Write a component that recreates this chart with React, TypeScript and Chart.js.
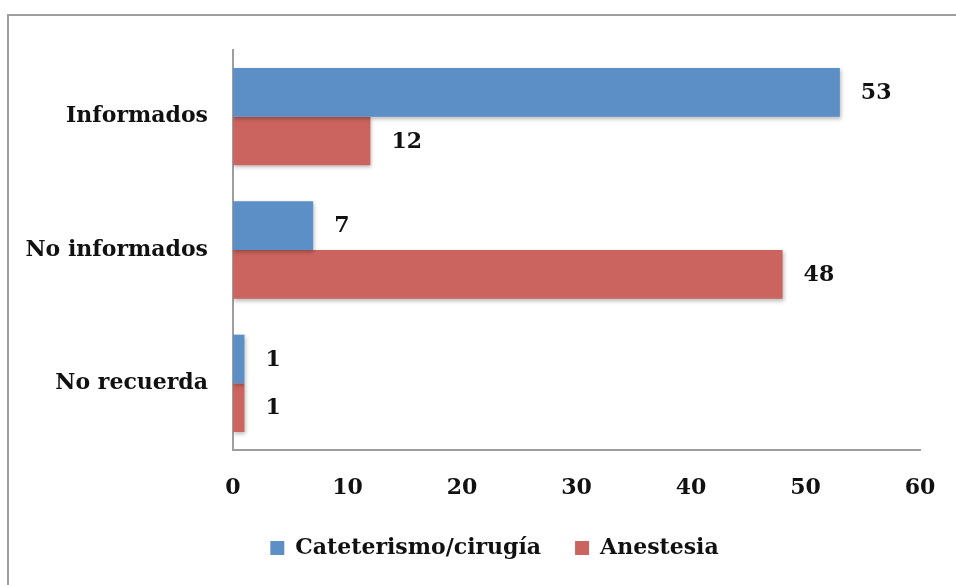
import React, { useEffect, useRef } from "react";
import { Chart, registerables } from "chart.js";

Chart.register(...registerables);

const categories = ["Informados", "No informados", "No recuerda"];
const seriesNames = ["Cateterismo/cirugía", "Anestesia"];
const cateterismo = [53, 7, 1];
const anestesia = [12, 48, 1];
const xTicks = [0, 10, 20, 30, 40, 50, 60];

const BLUE = "#5B8FC6";
const RED = "#CB645E";
const AXIS = "#9E9E9E";
const FONT = "'DejaVu Serif', serif";

// Soft drop shadow under the bars
const barShadow = {
  id: "barShadow",
  beforeDatasetsDraw(chart: any) {
    const ctx = chart.ctx;
    ctx.save();
    ctx.shadowColor = "rgba(0,0,0,0.28)";
    ctx.shadowBlur = 4;
    ctx.shadowOffsetX = 1;
    ctx.shadowOffsetY = 2;
  },
  afterDatasetsDraw(chart: any) {
    chart.ctx.restore();
  },
};

// Value printed to the right of every bar
const valueLabels = {
  id: "valueLabels",
  afterDatasetsDraw(chart: any) {
    const ctx = chart.ctx;
    ctx.save();
    ctx.font = `bold 22px ${FONT}`;
    ctx.fillStyle = "#111";
    ctx.textAlign = "left";
    ctx.textBaseline = "middle";
    chart.data.datasets.forEach((ds: any, i: number) => {
      const meta = chart.getDatasetMeta(i);
      meta.data.forEach((bar: any, j: number) => {
        ctx.fillText(String(ds.data[j]), bar.x + 21, bar.y + 1);
      });
    });
    ctx.restore();
  },
};

// Legend is centred on the full frame width rather than the plot width
const legendShift = {
  id: "legendShift",
  afterLayout(chart: any) {
    const lg = chart.legend;
    if (!lg) return;
    lg.left += 30;
    lg.right += 30;
  },
};

export default function App() {
  const ref = useRef<HTMLCanvasElement>(null);

  useEffect(() => {
    if (!ref.current) return;
    const chart = new Chart(ref.current, {
      type: "bar",
      data: {
        labels: categories,
        datasets: [
          { label: seriesNames[0], data: cateterismo, backgroundColor: BLUE },
          { label: seriesNames[1], data: anestesia, backgroundColor: RED },
        ],
      },
      options: {
        indexAxis: "y",
        animation: false,
        responsive: false,
        events: [],
        layout: { padding: { left: 0, right: 59, top: 34, bottom: 16 } },
        datasets: {
          bar: { barPercentage: 1, categoryPercentage: 0.73 },
        },
        scales: {
          x: {
            min: 0,
            max: 60,
            afterBuildTicks: (scale: any) => {
              scale.ticks = xTicks.map((v) => ({ value: v }));
            },
            afterFit: (scale: any) => {
              scale.height = 53;
            },
            grid: { display: false, drawTicks: false },
            border: { display: true, color: AXIS, width: 2 },
            ticks: {
              padding: 25,
              color: "#111",
              font: { family: FONT, size: 22, weight: "bold" },
            },
          },
          y: {
            afterFit: (scale: any) => {
              scale.width = 224;
              scale.paddingTop = 0;
              scale.paddingBottom = 0;
            },
            grid: { display: false, drawTicks: false },
            border: { display: true, color: AXIS, width: 2 },
            ticks: {
              padding: 25,
              color: "#111",
              font: { family: FONT, size: 22, weight: "bold" },
            },
          },
        },
        plugins: {
          legend: {
            position: "bottom",
            labels: {
              boxWidth: 14,
              boxHeight: 14,
              padding: 34,
              color: "#111",
              font: { family: FONT, size: 22, weight: "bold" },
            },
          },
          tooltip: { enabled: false },
        },
      },
      plugins: [barShadow, valueLabels, legendShift],
    });
    return () => chart.destroy();
  }, []);

  return (
    <div style={{ position: "fixed", inset: 0, overflow: "hidden", background: "#fff" }}>
      <div
        style={{
          position: "absolute",
          left: 7,
          top: 14,
          width: 990,
          height: 600,
          border: `2px solid ${AXIS}`,
          background: "#fff",
        }}
      >
        <canvas ref={ref} width={970} height={569} style={{ display: "block" }} />
      </div>
    </div>
  );
}
